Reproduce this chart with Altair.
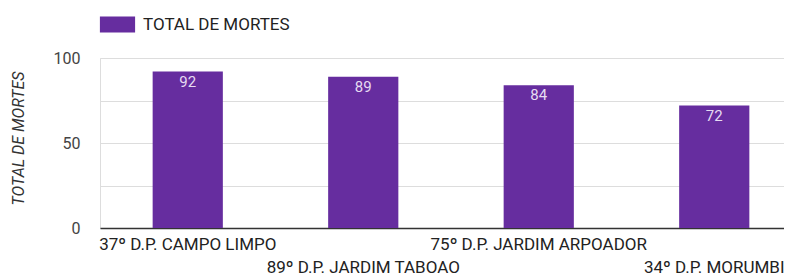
import json
import altair as alt
import pandas as pd

categories = ["37º D.P. CAMPO LIMPO", "89º D.P. JARDIM TABOAO", "75º D.P. JARDIM ARPOADOR", "34º D.P. MORUMBI"]
values = [92, 89, 84, 72]
series_name = "TOTAL DE MORTES"
y_ticks = [0, 25, 50, 75, 100]

df = pd.DataFrame({"cat": categories, "val": values, "serie": [series_name] * len(categories)})

FONT = "Roboto"
BAR = "#662d9f"

label_expr = (
    "indexof(" + json.dumps(categories) + ", datum.value) % 2 == 1 ? ['', datum.label] : datum.label"
)

x = alt.X(
    "cat:N",
    sort=categories,
    scale=alt.Scale(range=[0, 702], paddingInner=0.6, paddingOuter=0.3),
    axis=alt.Axis(
        title=None,
        labelAngle=0,
        labelExpr=label_expr,
        labelLineHeight=23,
        labelBaseline="top",
        labelPadding=8,
        labelFontSize=17,
        labelColor="#222222",
        labelFont=FONT,
        labelLimit=0,
        ticks=False,
        domainColor="#333333",
        domainWidth=1.5,
        grid=False,
        labelOverlap=False,
        labelBound=False,
        labelFlush=False,
    ),
)

y = alt.Y(
    "val:Q",
    scale=alt.Scale(domain=[0, 100], nice=False),
    axis=alt.Axis(
        title=series_name,
        values=y_ticks,
        labelExpr="datum.value % 50 == 0 ? datum.label : ''",
        labelFontSize=16,
        labelColor="#444444",
        labelFont=FONT,
        labelPadding=20,
        ticks=False,
        domain=False,
        gridColor="#dddddd",
        titleFont=FONT,
        titleFontSize=16,
        titleFontStyle="italic",
        titleFontWeight="normal",
        titleColor="#333333",
        titleX=-82,
        titleY=80,
        titleAngle=270,
        titleAlign="center",
        titleBaseline="middle",
    ),
)

bars = alt.Chart(df).mark_bar(color=BAR).encode(
    x=x,
    y=y,
    color=alt.Color(
        "serie:N",
        scale=alt.Scale(range=[BAR]),
        legend=alt.Legend(
            title=None,
            orient="none",
            legendX=9,
            legendY=-42,
            symbolType="M-2.2,-1H2.2V1H-2.2Z",
            symbolSize=256,
            symbolStrokeWidth=0,
            symbolFillColor=BAR,
            labelFont=FONT,
            labelFontSize=17,
            labelColor="#222222",
            labelOffset=17,
            labelLimit=0,
        ),
    ),
)

labels = alt.Chart(df).mark_text(
    baseline="top", dy=3, color="#e6dcf2", fontSize=15, font=FONT
).encode(x=alt.X("cat:N", sort=categories), y="val:Q", text="val:Q")

chart = (
    alt.layer(bars, labels)
    .properties(
        width=684,
        height=170,
        autosize=alt.AutoSizeParams(type="none"),
        padding={"left": 92, "top": 50, "right": 0, "bottom": 51},
    )
    .configure_view(stroke=None)
    .configure(background="white")
)

chart.save("out.html", embed_options={"renderer": "svg", "actions": False})
